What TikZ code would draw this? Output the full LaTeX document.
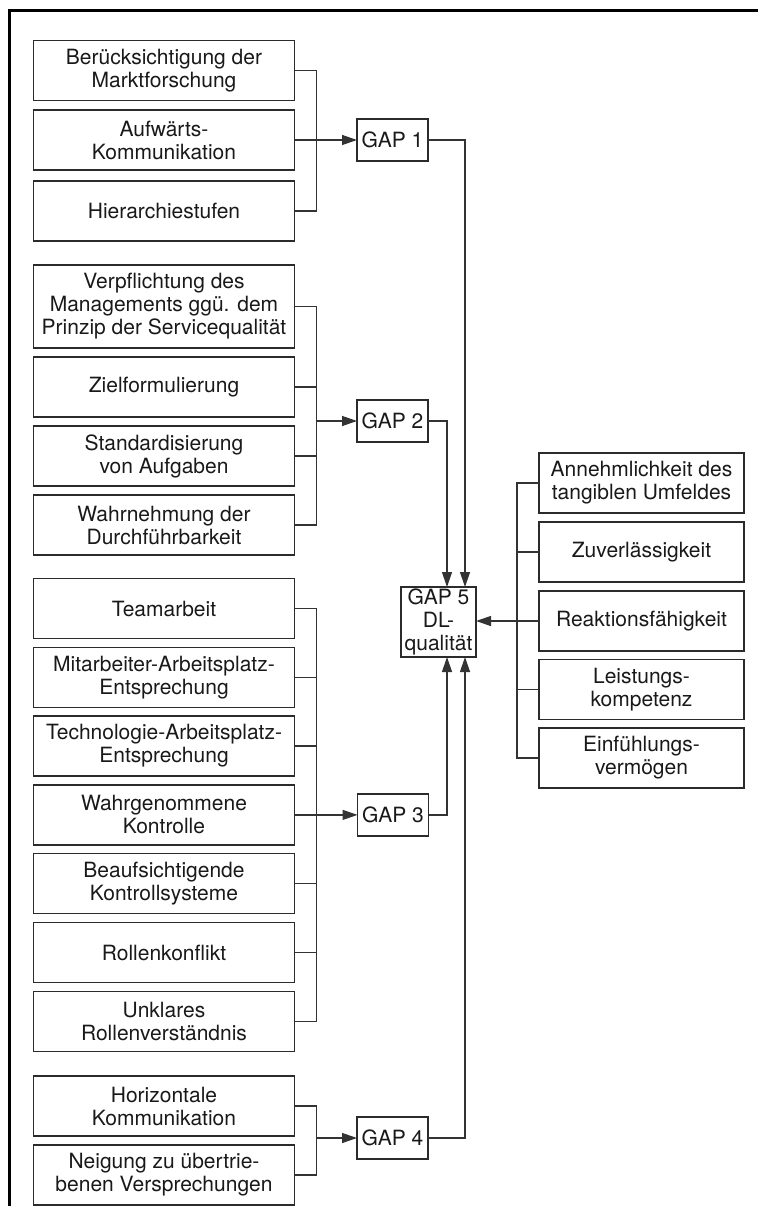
\documentclass[tikz,border=0pt]{standalone}
\usepackage{fontspec}
\setmainfont{TeX Gyre Heros}
\usetikzlibrary{arrows.meta}
\definecolor{boxgray}{HTML}{2B2B2B}
\definecolor{linegray}{HTML}{333333}
\tikzset{
    factornode/.style = {
        align=center,
        rectangle,
        draw=boxgray,
        line width=1.4pt,
        font=\fontsize{21}{23}\selectfont,
        text=black!90,
        minimum height=60pt,
        inner sep=0pt,
        outer sep=0pt
    },
    leftnode/.style = {
        factornode,
        minimum width=261pt
    },
    rightnode/.style = {
        factornode,
        minimum width=205pt
    },
    gapnode/.style = {
        factornode,
        minimum width=71pt,
        minimum height=42pt
    },
    link/.style = {
        draw=linegray,
        line width=1.3pt
    },
    linkarrow/.style = {
        link,
        -{Triangle[length=15pt,width=10pt]}
    }
}

\begin{document}
\begin{tikzpicture}[x=1pt,y=-1pt]
    \useasboundingbox (0,0) rectangle (758,1206);
    % frame
    \draw[line width=3pt] (9,1206) -- (9,10.5) -- (758,10.5);

    % GAP 1
    \node [leftnode] (b1) at (164,70.5) {Berücksichtigung der\\Marktforschung};
    \node [leftnode] (b2) at (164,140) {Aufwärts-\\Kommunikation};
    \node [leftnode] (b3) at (164,211) {Hierarchiestufen};
    \node [gapnode] (gap1) at (392.5,140) {GAP 1};
    \coordinate (j1) at (316.5,140);

    % GAP 2
    \node [leftnode, minimum height=83pt] (v1) at (164,306.5) {Verpflichtung des\\Managements ggü. dem\\Prinzip der Servicequalität};
    \node [leftnode] (v2) at (164,387) {Zielformulierung};
    \node [leftnode] (v3) at (164,456) {Standardisierung\\von Aufgaben};
    \node [leftnode] (v4) at (164,525) {Wahrnehmung der\\Durchführbarkeit};
    \node [gapnode] (gap2) at (392.5,421) {GAP 2};
    \coordinate (j2) at (316.5,421);

    % GAP 3
    \node [leftnode] (t1) at (164,608.5) {Teamarbeit};
    \node [leftnode] (t2) at (164,677.3) {Mitarbeiter-Arbeitsplatz-\\Entsprechung};
    \node [leftnode] (t3) at (164,746.1) {Technologie-Arbeitsplatz-\\Entsprechung};
    \node [leftnode] (t4) at (164,814.9) {Wahrgenommene\\Kontrolle};
    \node [leftnode] (t5) at (164,883.7) {Beaufsichtigende\\Kontrollsysteme};
    \node [leftnode] (t6) at (164,952.5) {Rollenkonflikt};
    \node [leftnode] (t7) at (164,1021.3) {Unklares\\Rollenverständnis};
    \node [gapnode] (gap3) at (393,814.9) {GAP 3};
    \coordinate (j3) at (316.5,814.9);

    % GAP 4
    \node [leftnode] (h1) at (164,1106) {Horizontale\\Kommunikation};
    \node [leftnode] (h2) at (164,1175) {Neigung zu übertrie-\\benen Versprechungen};
    \node [gapnode] (gap4) at (392.5,1138) {GAP 4};
    \coordinate (j4) at (316.5,1138);

    % GAP 5
    \node [gapnode, minimum width=75pt, minimum height=70pt] (gap5) at (438.5,622) {GAP 5\\DL-\\qualität};
    \node [rightnode] (r1) at (641.5,483) {Annehmlichkeit des\\tangiblen Umfeldes};
    \node [rightnode] (r2) at (641.5,552) {Zuverlässigkeit};
    \node [rightnode] (r3) at (641.5,621) {Reaktionsfähigkeit};
    \node [rightnode] (r4) at (641.5,689.5) {Leistungs-\\kompetenz};
    \node [rightnode] (r5) at (641.5,758) {Einfühlungs-\\vermögen};
    \coordinate (jr) at (517,483);

    % brackets on the left
    \draw[link] (b1.east) -| (j1) |- (b3.east);
    \draw[linkarrow] (b2.east) -- (gap1.west);

    \draw[link] (v1.east) -| (j2) |- (v4.east);
    \draw[link] (v2.east) -- (v2.east -| j2);
    \draw[link] (v3.east) -- (v3.east -| j2);
    \draw[linkarrow] (j2) -- (gap2.west);

    \draw[link] (t1.east) -| (j3) |- (t7.east);
    \foreach \t in {t2,t3,t5,t6}
        \draw[link] (\t.east) -- (\t.east -| j3);
    \draw[linkarrow] (t4.east) -- (gap3.west);

    \draw[link] (h1.east) -| (j4) |- (h2.east);
    \draw[linkarrow] (j4) -- (gap4.west);

    % into GAP 5
    \draw[linkarrow] (gap1.east) -| ([xshift=26.5pt]gap5.north);
    \draw[linkarrow] (gap2.east) -| ([xshift=8.5pt]gap5.north);
    \draw[linkarrow] (gap3.east) -| ([xshift=8.5pt]gap5.south);
    \draw[linkarrow] (gap4.east) -| ([xshift=26.5pt]gap5.south);

    % bracket on the right
    \draw[link] (r1.west) -- (jr) |- (r5.west);
    \draw[link] (r2.west) -- (r2.west -| jr);
    \draw[link] (r4.west) -- (r4.west -| jr);
    \draw[linkarrow] (r3.west -| jr) -- (r3.west -| gap5.east);
    \draw[link] (r3.west) -- (r3.west -| jr);
\end{tikzpicture}
\end{document}
